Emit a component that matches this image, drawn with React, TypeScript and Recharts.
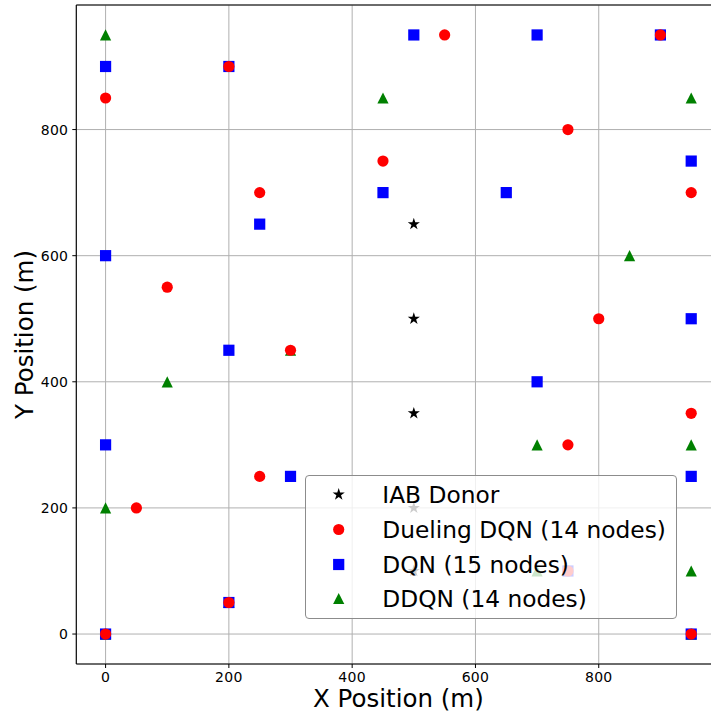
import React from "react";
import {
  ScatterChart,
  Scatter,
  XAxis,
  YAxis,
  CartesianGrid,
  Legend,
  Label,
  ReferenceLine,
} from "recharts";

// node positions (metres)
const donorX = [500, 500, 500, 500, 500];
const donorY = [650, 500, 350, 200, 100];

const duelingX = [550, 900, 200, 0, 750, 450, 250, 950, 100, 800, 300, 950, 750, 250, 50, 750, 200, 0, 950];
const duelingY = [950, 950, 900, 850, 800, 750, 700, 700, 550, 500, 450, 350, 300, 250, 200, 100, 50, 0, 0];

const dqnX = [500, 700, 900, 0, 200, 950, 450, 650, 250, 0, 950, 200, 700, 0, 300, 950, 750, 200, 0, 950];
const dqnY = [950, 950, 950, 900, 900, 750, 700, 700, 650, 600, 500, 450, 400, 300, 250, 250, 100, 50, 0, 0];

const ddqnX = [0, 450, 950, 850, 300, 100, 700, 950, 0, 700, 950, 200, 0, 950];
const ddqnY = [950, 850, 850, 600, 450, 400, 300, 300, 200, 100, 100, 50, 0, 0];

const ticks = [0, 200, 400, 600, 800];
const domain: [number, number] = [-47.5, 997.5];

const FONT = "'DejaVu Sans', sans-serif";

const toPoints = (xs: number[], ys: number[]) => xs.map((x, i) => ({ x, y: ys[i] }));

const starPoints = (cx: number, cy: number, r: number) => {
  const pts: string[] = [];
  for (let i = 0; i < 10; i++) {
    const a = ((-90 + i * 36) * Math.PI) / 180;
    const rad = i % 2 === 0 ? r : r * 0.382;
    pts.push(`${cx + rad * Math.cos(a)},${cy + rad * Math.sin(a)}`);
  }
  return pts.join(" ");
};

type Kind = "star" | "circle" | "square" | "triangle";

const Marker = ({ kind, cx, cy, color }: { kind: Kind; cx: number; cy: number; color: string }) => {
  if (kind === "star") return <polygon points={starPoints(cx, cy, 6.4)} fill={color} />;
  if (kind === "circle") return <circle cx={cx} cy={cy} r={5.6} fill={color} />;
  if (kind === "square") return <rect x={cx - 5.6} y={cy - 5.6} width={11.2} height={11.2} fill={color} />;
  return (
    <polygon
      points={`${cx},${cy - 5.6} ${cx - 5.6},${cy + 5.6} ${cx + 5.6},${cy + 5.6}`}
      fill={color}
    />
  );
};

const series = [
  { name: "IAB Donor", kind: "star" as Kind, color: "#000000", data: toPoints(donorX, donorY) },
  { name: "Dueling DQN (14 nodes)", kind: "circle" as Kind, color: "#ff0000", data: toPoints(duelingX, duelingY) },
  { name: "DQN (15 nodes)", kind: "square" as Kind, color: "#0000ff", data: toPoints(dqnX, dqnY) },
  { name: "DDQN (14 nodes)", kind: "triangle" as Kind, color: "#008000", data: toPoints(ddqnX, ddqnY) },
];

// draw order: donors, DDQN, DQN, then Dueling on top
const drawOrder = [0, 3, 2, 1];

const LegendBox = () => (
  <div
    style={{
      position: "relative",
      width: 371.4,
      height: 144.3,
      boxSizing: "border-box",
      border: "1px solid #8c8c8c",
      borderRadius: 4,
      background: "rgba(255,255,255,0.8)",
      fontFamily: FONT,
      fontSize: 23.3,
      color: "#000",
    }}
  >
    {series.map((s, i) => (
      <div
        key={s.name}
        style={{
          position: "absolute",
          left: 0,
          top: 18.6 + i * 34.9 - 17.5,
          height: 35,
          display: "flex",
          alignItems: "center",
          whiteSpace: "nowrap",
        }}
      >
        <svg width={76} height={35} style={{ display: "block" }}>
          <Marker kind={s.kind} cx={32.7} cy={17.5} color={s.color} />
        </svg>
        <span style={{ lineHeight: "35px" }}>{s.name}</span>
      </div>
    ))}
  </div>
);

const tickStyle = { fill: "#000", fontSize: 14, fontFamily: FONT, letterSpacing: 0.3 };

export default function App() {
  return (
    <div
      style={{
        position: "fixed",
        left: 0,
        top: 0,
        width: 711,
        height: 716,
        overflow: "hidden",
        background: "#fff",
      }}
    >
      <ScatterChart width={740} height={716} margin={{ top: 5, right: 19.5, bottom: 0, left: 0.3 }}>
        <CartesianGrid stroke="#b0b0b0" strokeWidth={1} />
        <XAxis
          type="number"
          dataKey="x"
          domain={domain}
          ticks={ticks}
          allowDataOverflow
          height={52}
          tick={tickStyle}
          tickSize={4}
          tickMargin={4}
          tickLine={{ stroke: "#000" }}
          axisLine={{ stroke: "#000", strokeWidth: 1.1 }}
        >
          <Label
            content={({ viewBox }: any) => (
              <text
                x={viewBox.x + viewBox.width / 2}
                y={viewBox.y + 42.5}
                textAnchor="middle"
                fontFamily={FONT}
                fontSize={24.5}
                fill="#000"
              >
                X Position (m)
              </text>
            )}
          />
        </XAxis>
        <YAxis
          type="number"
          dataKey="y"
          domain={domain}
          ticks={ticks}
          allowDataOverflow
          width={76}
          tick={tickStyle}
          tickSize={4}
          tickMargin={4}
          tickLine={{ stroke: "#000" }}
          axisLine={{ stroke: "#000", strokeWidth: 1.1 }}
        >
          <Label
            content={({ viewBox }: any) => {
              const cy = viewBox.y + viewBox.height / 2;
              return (
                <text
                  x={32.5}
                  y={cy}
                  transform={`rotate(-90 32.5 ${cy})`}
                  textAnchor="middle"
                  fontFamily={FONT}
                  fontSize={24.5}
                  fill="#000"
                >
                  Y Position (m)
                </text>
              );
            }}
          />
        </YAxis>
        <ReferenceLine y={997.5} stroke="#000" strokeWidth={1.1} ifOverflow="visible" />
        <ReferenceLine x={997.5} stroke="#000" strokeWidth={1.1} ifOverflow="visible" />
        {drawOrder.map((idx) => {
          const s = series[idx];
          return (
            <Scatter
              key={s.name}
              name={s.name}
              data={s.data}
              fill={s.color}
              isAnimationActive={false}
              shape={(p: any) => <Marker kind={s.kind} cx={p.cx} cy={p.cy} color={s.color} />}
            />
          );
        })}
        <Legend
          layout="vertical"
          align="center"
          verticalAlign="middle"
          content={() => <LegendBox />}
          wrapperStyle={{ left: 305.3, top: 474.7, width: 371.4, height: 144.3 }}
        />
      </ScatterChart>
    </div>
  );
}
